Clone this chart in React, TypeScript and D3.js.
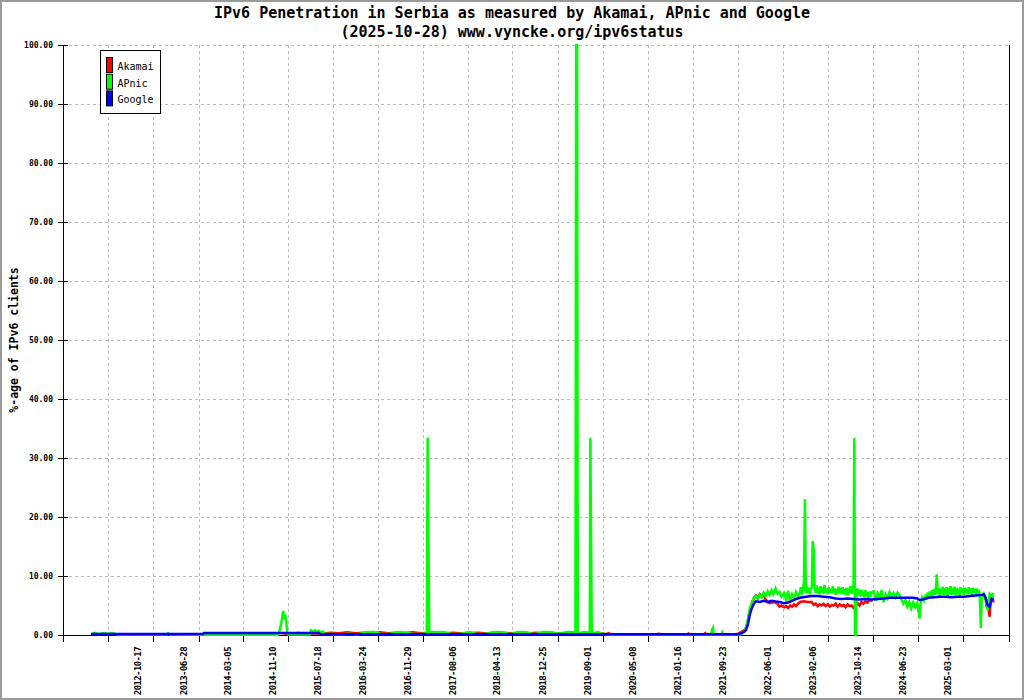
import React, { useEffect, useRef } from 'react';
import * as d3 from 'd3';

type Pt = [string, number | null];

const titleLines = [
  'IPv6 Penetration in Serbia as measured by Akamai, APnic and Google',
  '(2025-10-28) www.vyncke.org/ipv6status',
];
const yAxisTitle = '%-age of IPv6 clients';
const yTicks = [0, 10, 20, 30, 40, 50, 60, 70, 80, 90, 100];
const xDomain = ['2011-06-03', '2025-11-12'];
const xUnlabeledTicks = ['2012-02-09'];
const xTickLabels = [
  '2012-10-17', '2013-06-28', '2014-03-05', '2014-11-10', '2015-07-18', '2016-03-24',
  '2016-11-29', '2017-08-06', '2018-04-13', '2018-12-25', '2019-09-01', '2020-05-08',
  '2021-01-16', '2021-09-23', '2022-06-01', '2023-02-06', '2023-10-14', '2024-06-23',
  '2025-03-01',
];
const seriesNames = ['Akamai', 'APnic', 'Google'];
const seriesColors = ['#ff0000', '#00ff00', '#0000ff'];

const akamai: Pt[] = [
  ['2014-10-08', 0.3], ['2014-11-20', 0.2], ['2015-01-05', 0.35], ['2015-02-20', 0.2], ['2015-04-05', 0.3],
  ['2015-05-20', 0.25], ['2015-07-05', 0.4], ['2015-08-20', 0.3], ['2015-10-05', 0.45], ['2015-11-20', 0.3],
  ['2016-01-05', 0.4], ['2016-02-20', 0.25], ['2016-04-05', 0.45], ['2016-05-20', 0.3], ['2016-07-05', 0.4],
  ['2016-08-20', 0.35], ['2016-10-05', 0.45], ['2016-11-20', 0.3], ['2017-01-05', 0.4], ['2017-02-20', 0.45],
  ['2017-04-05', 0.3], ['2017-05-20', 0.4], ['2017-07-05', 0.25], ['2017-08-20', 0.35], ['2017-10-05', 0.4],
  ['2017-11-20', 0.25], ['2018-01-05', 0.35], ['2018-02-20', 0.4], ['2018-04-05', 0.3], ['2018-05-20', 0.35],
  ['2018-07-05', 0.25], ['2018-08-20', 0.4], ['2018-10-05', 0.3], ['2018-11-20', 0.35], ['2019-01-05', 0.25],
  ['2019-02-20', 0.4], ['2019-04-05', 0.3], ['2019-05-20', 0.35], ['2019-07-05', 0.25], ['2019-08-20', 0.3],
  ['2019-09-20', 0.15], ['2019-10-01', 0.3], ['2019-10-15', 0.1], ['2020-06-20', 0.1], ['2020-07-05', 0.22],
  ['2020-08-05', 0.1], ['2020-12-15', 0.1], ['2020-12-20', 0.25], ['2020-12-28', 0.1], ['2021-03-18', 0.1],
  ['2021-03-24', 0.3], ['2021-03-30', 0.1], ['2021-09-10', 0.15],
  ['2021-09-23', 0.2], ['2021-10-10', 0.5], ['2021-10-26', 0.8], ['2021-11-06', 1.2], ['2021-11-17', 2.5],
  ['2021-11-28', 4.1], ['2021-12-09', 5.4], ['2021-12-20', 6.2], ['2021-12-31', 6.7], ['2022-01-11', 6.3],
  ['2022-01-22', 6.9], ['2022-02-02', 6.5], ['2022-02-13', 6.8], ['2022-02-24', 6.0], ['2022-03-07', 5.6],
  ['2022-03-18', 5.4], ['2022-04-09', 5.6], ['2022-05-01', 5.3], ['2022-05-12', 4.8], ['2022-05-23', 5.0],
  ['2022-06-07', 4.7], ['2022-06-18', 4.9], ['2022-06-29', 4.6], ['2022-07-10', 5.0], ['2022-07-21', 4.8],
  ['2022-08-01', 5.2], ['2022-08-12', 4.9], ['2022-08-23', 5.3], ['2022-09-03', 5.6], ['2022-09-25', 5.7],
  ['2022-10-17', 5.6], ['2022-11-08', 5.6], ['2022-11-19', 5.1], ['2022-11-30', 5.3], ['2022-12-11', 4.9],
  ['2022-12-22', 5.2], ['2023-01-02', 5.0], ['2023-01-13', 5.3], ['2023-01-24', 4.9], ['2023-02-06', 5.2],
  ['2023-02-17', 4.8], ['2023-02-28', 5.1], ['2023-03-11', 5.0], ['2023-03-22', 5.3], ['2023-04-02', 4.8],
  ['2023-04-13', 5.2], ['2023-04-24', 4.9], ['2023-05-05', 5.1], ['2023-05-16', 4.7], ['2023-05-27', 5.2],
  ['2023-06-07', 4.9], ['2023-06-18', 5.0], ['2023-06-29', 4.6], ['2023-07-10', 5.1], ['2023-07-21', 5.4],
  ['2023-08-01', 5.0], ['2023-08-12', 5.6], ['2023-08-23', 5.3], ['2023-09-03', 5.7], ['2023-09-14', 5.5],
  ['2023-09-25', 5.9], ['2023-10-14', 5.8], ['2023-10-20', null],
  ['2025-06-24', 7.0], ['2025-07-05', 6.1], ['2025-07-10', 4.8], ['2025-07-16', 5.6], ['2025-07-27', 3.1],
  ['2025-08-02', 6.2], ['2025-08-07', 6.9], ['2025-08-18', 5.5],
];

const apnic: Pt[] = [
  ['2011-11-06', 0.1], ['2011-11-25', 0.35], ['2011-12-20', 0.15], ['2012-01-15', 0.35], ['2012-02-10', 0.2],
  ['2012-03-05', 0.35], ['2012-04-01', 0.1], ['2013-01-02', 0.1], ['2013-01-09', 0.3], ['2013-01-20', 0.1],
  ['2013-07-28', 0.05], ['2014-09-15', 0.05], ['2014-09-21', 0.5], ['2014-10-02', 2.0], ['2014-10-08', 3.0],
  ['2014-10-13', 4.1], ['2014-10-19', 2.6], ['2014-10-24', 3.5], ['2014-10-30', 2.3], ['2014-11-04', 0.6],
  ['2014-11-10', 0.1], ['2015-03-11', 0.1], ['2015-03-17', 0.8], ['2015-03-28', 0.6], ['2015-04-08', 0.8],
  ['2015-04-19', 0.5], ['2015-04-30', 0.7], ['2015-05-11', 0.4], ['2015-05-22', 0.6], ['2015-06-03', 0.2],
  ['2015-07-15', 0.15], ['2015-09-01', 0.1], ['2015-10-15', 0.2], ['2015-12-01', 0.1], ['2016-01-15', 0.45],
  ['2016-03-01', 0.5], ['2016-04-15', 0.15], ['2016-06-01', 0.2], ['2016-07-15', 0.5], ['2016-09-01', 0.4],
  ['2016-10-15', 0.15], ['2016-12-01', 0.2], ['2016-12-22', 0.3], ['2016-12-27', 33.4], ['2016-12-31', 16.7],
  ['2017-01-05', 0.2], ['2017-02-15', 0.5], ['2017-04-01', 0.45], ['2017-05-15', 0.15], ['2017-07-01', 0.2],
  ['2017-08-15', 0.5], ['2017-10-01', 0.15], ['2017-11-15', 0.2], ['2018-01-01', 0.5], ['2018-02-15', 0.45],
  ['2018-04-01', 0.15], ['2018-05-15', 0.5], ['2018-07-01', 0.45], ['2018-08-15', 0.15], ['2018-10-01', 0.5],
  ['2018-11-15', 0.45], ['2019-01-01', 0.2], ['2019-02-15', 0.5], ['2019-03-31', 0.45], ['2019-04-04', 100],
  ['2019-04-09', 100], ['2019-04-13', 0.2], ['2019-05-20', 0.5], ['2019-06-19', 0.4], ['2019-06-22', 33.4],
  ['2019-06-26', 16.7], ['2019-06-30', 0.2], ['2019-08-01', 0.5], ['2019-09-01', 0.2], ['2019-10-01', 0.1],
  ['2021-04-25', 0.1], ['2021-05-01', 0.9], ['2021-05-06', 1.2], ['2021-05-10', 0.1], ['2021-06-24', 0.1],
  ['2021-06-27', 0.4], ['2021-07-01', 0.1],
  ['2021-09-23', 0.1], ['2021-10-04', 0.1], ['2021-10-15', 0.3], ['2021-10-26', 0.6], ['2021-11-06', 1.2],
  ['2021-11-17', 2.6], ['2021-11-28', 4.6], ['2021-12-09', 5.4], ['2021-12-20', 6.3], ['2021-12-31', 6.6],
  ['2022-01-11', 6.1], ['2022-01-22', 6.9], ['2022-02-02', 6.4], ['2022-02-13', 7.2], ['2022-02-24', 6.6],
  ['2022-03-07', 7.4], ['2022-03-18', 6.8], ['2022-03-29', 7.6], ['2022-04-09', 6.9], ['2022-04-20', 7.9],
  ['2022-05-01', 7.0], ['2022-05-12', 7.3], ['2022-05-23', 6.5], ['2022-06-07', 7.1], ['2022-06-18', 6.0],
  ['2022-06-29', 7.5], ['2022-07-10', 5.7], ['2022-07-21', 6.9], ['2022-08-01', 6.2], ['2022-08-12', 7.3],
  ['2022-08-23', 6.6], ['2022-09-03', 7.2], ['2022-09-08', 8.1], ['2022-09-14', 6.8], ['2022-09-20', 7.9],
  ['2022-09-25', 7.5], ['2022-10-01', 23.0], ['2022-10-06', 7.0], ['2022-10-11', 8.2], ['2022-10-17', 7.1],
  ['2022-10-22', 8.0], ['2022-10-28', 6.9], ['2022-11-03', 7.8], ['2022-11-08', 8.0], ['2022-11-13', 15.9],
  ['2022-11-19', 14.6], ['2022-11-24', 8.2], ['2022-11-30', 7.1], ['2022-12-05', 8.4], ['2022-12-11', 7.0],
  ['2022-12-16', 7.9], ['2022-12-22', 6.9], ['2022-12-27', 8.3], ['2023-01-02', 7.2], ['2023-01-07', 8.0],
  ['2023-01-13', 7.0], ['2023-01-18', 8.5], ['2023-01-24', 7.2], ['2023-01-30', 7.9], ['2023-02-06', 6.9],
  ['2023-02-11', 8.1], ['2023-02-17', 7.1], ['2023-02-22', 7.8], ['2023-02-28', 7.0], ['2023-03-05', 8.3],
  ['2023-03-11', 7.2], ['2023-03-16', 7.9], ['2023-03-22', 6.8], ['2023-03-27', 7.8], ['2023-04-02', 7.0],
  ['2023-04-07', 8.2], ['2023-04-13', 7.1], ['2023-04-18', 7.9], ['2023-04-24', 6.9], ['2023-04-29', 8.1],
  ['2023-05-05', 7.0], ['2023-05-10', 7.8], ['2023-05-16', 6.8], ['2023-05-21', 8.0], ['2023-05-27', 6.7],
  ['2023-06-01', 7.9], ['2023-06-07', 7.1], ['2023-06-12', 8.3], ['2023-06-18', 7.0], ['2023-06-23', 7.8],
  ['2023-06-29', 8.6], ['2023-07-03', 33.4], ['2023-07-07', 0.05], ['2023-07-12', 0.05], ['2023-07-16', 7.0],
  ['2023-07-21', 7.9], ['2023-07-26', 6.8], ['2023-08-01', 7.6], ['2023-08-06', 6.5], ['2023-08-12', 7.7],
  ['2023-08-17', 6.6], ['2023-08-23', 7.4], ['2023-08-28', 6.4], ['2023-09-03', 7.6], ['2023-09-08', 6.6],
  ['2023-09-14', 7.3], ['2023-09-19', 6.2], ['2023-09-25', 7.4], ['2023-09-30', 6.4], ['2023-10-06', 7.2],
  ['2023-10-20', 7.4], ['2023-10-31', 5.8], ['2023-11-11', 7.1], ['2023-11-22', 6.4], ['2023-12-03', 7.6],
  ['2023-12-14', 5.6], ['2023-12-25', 6.9], ['2024-01-05', 6.2], ['2024-01-16', 7.3], ['2024-01-27', 6.6],
  ['2024-02-07', 7.1], ['2024-02-18', 6.4], ['2024-02-29', 7.2], ['2024-03-11', 6.8], ['2024-03-22', 6.0],
  ['2024-04-02', 5.3], ['2024-04-13', 5.9], ['2024-04-24', 4.8], ['2024-05-05', 5.6], ['2024-05-16', 4.5],
  ['2024-05-27', 5.5], ['2024-06-07', 4.7], ['2024-06-18', 5.4], ['2024-07-02', 2.8], ['2024-07-06', 5.2],
  ['2024-07-15', 6.4], ['2024-07-26', 5.8], ['2024-08-06', 6.9], ['2024-08-11', 6.0], ['2024-08-17', 7.2],
  ['2024-08-22', 6.3], ['2024-08-28', 7.4], ['2024-09-02', 6.5], ['2024-09-08', 7.6], ['2024-09-13', 6.6],
  ['2024-09-19', 7.8], ['2024-09-24', 6.8], ['2024-09-30', 7.6], ['2024-10-05', 10.3], ['2024-10-11', 7.0],
  ['2024-10-16', 8.0], ['2024-10-22', 6.7], ['2024-10-27', 7.9], ['2024-11-02', 6.9], ['2024-11-07', 8.2],
  ['2024-11-13', 6.8], ['2024-11-18', 7.9], ['2024-11-24', 7.0], ['2024-11-29', 8.1], ['2024-12-05', 6.6],
  ['2024-12-10', 8.0], ['2024-12-16', 7.0], ['2024-12-21', 8.3], ['2024-12-27', 6.8], ['2025-01-01', 7.9],
  ['2025-01-07', 7.0], ['2025-01-12', 8.2], ['2025-01-18', 6.7], ['2025-01-23', 8.0], ['2025-01-29', 7.1],
  ['2025-02-03', 7.8], ['2025-02-09', 6.6], ['2025-02-14', 8.1], ['2025-02-20', 7.2], ['2025-02-25', 7.9],
  ['2025-03-06', 6.8], ['2025-03-11', 8.0], ['2025-03-17', 7.1], ['2025-03-22', 7.8], ['2025-03-28', 6.9],
  ['2025-04-02', 8.1], ['2025-04-08', 7.0], ['2025-04-13', 7.9], ['2025-04-19', 6.8], ['2025-04-24', 8.0],
  ['2025-04-30', 7.1], ['2025-05-05', 7.8], ['2025-05-11', 6.9], ['2025-05-16', 7.9], ['2025-05-22', 7.0],
  ['2025-05-27', 7.6], ['2025-06-02', 6.8], ['2025-06-08', 1.2], ['2025-06-13', 6.5], ['2025-06-24', 7.0],
  ['2025-07-05', 6.2], ['2025-07-16', 4.2], ['2025-07-27', 6.9], ['2025-08-07', 6.4], ['2025-08-18', 7.1],
];

const google: Pt[] = [
  ['2011-11-06', 0.15], ['2013-07-22', 0.15], ['2013-07-28', 0.35], ['2015-05-01', 0.35], ['2015-05-08', 0.12],
  ['2021-09-23', 0.12], ['2021-10-10', 0.3], ['2021-10-26', 0.5], ['2021-11-06', 0.8], ['2021-11-17', 1.8],
  ['2021-11-28', 3.5], ['2021-12-09', 4.6], ['2021-12-20', 5.3], ['2021-12-31', 5.7], ['2022-01-22', 5.6],
  ['2022-02-13', 5.8], ['2022-03-07', 5.6], ['2022-03-29', 5.8], ['2022-04-20', 5.7], ['2022-05-12', 5.6],
  ['2022-06-07', 5.4], ['2022-06-29', 5.5], ['2022-07-21', 5.8], ['2022-08-12', 6.1], ['2022-09-03', 6.3],
  ['2022-10-06', 6.5], ['2022-11-08', 6.6], ['2022-12-11', 6.6], ['2023-01-13', 6.5], ['2023-02-17', 6.4],
  ['2023-03-22', 6.2], ['2023-04-24', 6.1], ['2023-05-27', 6.2], ['2023-06-29', 6.1], ['2023-08-01', 6.0],
  ['2023-09-03', 6.1], ['2023-10-06', 6.0], ['2023-11-11', 6.1], ['2023-12-14', 6.2], ['2024-01-16', 6.3],
  ['2024-02-18', 6.3], ['2024-03-22', 6.3], ['2024-04-24', 6.3], ['2024-05-27', 6.3], ['2024-06-18', 6.2],
  ['2024-07-04', 5.9], ['2024-07-15', 6.0], ['2024-08-17', 6.3], ['2024-09-19', 6.4], ['2024-10-22', 6.5],
  ['2024-11-24', 6.5], ['2024-12-27', 6.4], ['2025-01-29', 6.5], ['2025-03-06', 6.5], ['2025-04-08', 6.6],
  ['2025-05-11', 6.7], ['2025-06-13', 6.8], ['2025-06-24', 6.9], ['2025-07-05', 6.3], ['2025-07-16', 5.0],
  ['2025-07-27', 4.8], ['2025-08-07', 6.1], ['2025-08-18', 5.9],
];

const seriesData = [akamai, apnic, google];

const W = 1024;
const H = 700;
const M = { left: 63, right: 1009, top: 45, bottom: 635 };
const MONO = '"DejaVu Sans Mono", "Liberation Mono", monospace';

const App: React.FC = () => {
  const svgRef = useRef<SVGSVGElement>(null);

  useEffect(() => {
    document.body.style.margin = '0';
    if (!svgRef.current) return;
    const svg = d3.select(svgRef.current);
    svg.selectAll('*').remove();

    const parse = d3.timeParse('%Y-%m-%d');
    const x = d3.scaleTime()
      .domain(xDomain.map(d => parse(d) as Date))
      .range([M.left, M.right]);
    const y = d3.scaleLinear().domain([0, 100]).range([M.bottom, M.top]);

    // background + frame
    svg.append('rect').attr('width', W).attr('height', H).attr('fill', '#ffffff');
    svg.append('rect')
      .attr('x', 1).attr('y', 1).attr('width', W - 2).attr('height', H - 2)
      .attr('fill', 'none').attr('stroke', '#9a9a9a').attr('stroke-width', 2);

    const gridTickDates = [...xUnlabeledTicks, ...xTickLabels].map(d => parse(d) as Date);
    const grid = svg.append('g').attr('shape-rendering', 'crispEdges')
      .attr('stroke', '#bdbdbd').attr('stroke-dasharray', '3,3');
    grid.selectAll('.hg').data(yTicks.filter(t => t > 0)).enter().append('line')
      .attr('x1', M.left).attr('x2', M.right)
      .attr('y1', d => Math.round(y(d)) + 0.5).attr('y2', d => Math.round(y(d)) + 0.5);
    grid.selectAll('.vg').data(gridTickDates).enter().append('line')
      .attr('x1', d => Math.round(x(d)) + 0.5).attr('x2', d => Math.round(x(d)) + 0.5)
      .attr('y1', M.top).attr('y2', M.bottom);

    // axes
    const ax = svg.append('g').attr('shape-rendering', 'crispEdges').attr('stroke', '#000');
    ax.append('line').attr('x1', M.left + 0.5).attr('x2', M.left + 0.5).attr('y1', M.top).attr('y2', M.bottom + 7);
    ax.append('line').attr('x1', M.right + 0.5).attr('x2', M.right + 0.5).attr('y1', M.top).attr('y2', M.bottom + 7);
    ax.append('line').attr('x1', M.left).attr('x2', M.right).attr('y1', M.bottom + 0.5).attr('y2', M.bottom + 0.5);
    ax.selectAll('.yt').data(yTicks).enter().append('line')
      .attr('x1', M.left - 5).attr('x2', M.left + 5)
      .attr('y1', d => Math.round(y(d)) + 0.5).attr('y2', d => Math.round(y(d)) + 0.5);
    ax.selectAll('.xt').data(gridTickDates).enter().append('line')
      .attr('x1', d => Math.round(x(d)) + 0.5).attr('x2', d => Math.round(x(d)) + 0.5)
      .attr('y1', M.bottom).attr('y2', M.bottom + 7);

    // series
    const line = d3.line<Pt>()
      .defined(d => d[1] !== null)
      .x(d => x(parse(d[0]) as Date))
      .y(d => y(d[1] as number));
    seriesData.forEach((data, i) => {
      svg.append('path')
        .attr('d', line(data) || '')
        .attr('fill', 'none')
        .attr('stroke', seriesColors[i])
        .attr('stroke-width', 2.5)
        .attr('stroke-linejoin', 'miter');
    });

    // y tick labels
    svg.selectAll('.yl').data(yTicks).enter().append('text')
      .attr('x', 53).attr('y', d => y(d) + 3)
      .attr('text-anchor', 'end')
      .attr('font-family', MONO).attr('font-size', 8).attr('font-weight', 'bold')
      .attr('fill', '#000')
      .text(d => d3.format('.2f')(d));

    // x tick labels
    svg.selectAll('.xl').data(xTickLabels).enter().append('text')
      .attr('transform', d => `translate(${x(parse(d) as Date) - 12},647) rotate(-90)`)
      .attr('text-anchor', 'end')
      .attr('font-family', MONO).attr('font-size', 9).attr('font-weight', 'bold')
      .attr('letter-spacing', -0.6)
      .attr('fill', '#000')
      .text(d => d);

    // titles
    titleLines.forEach((t, i) => {
      svg.append('text')
        .attr('x', 512).attr('y', 18 + i * 19)
        .attr('text-anchor', 'middle')
        .attr('font-family', MONO).attr('font-size', 15).attr('font-weight', 'bold')
        .attr('fill', '#000')
        .text(t);
    });
    svg.append('text')
      .attr('transform', 'translate(18,340) rotate(-90)')
      .attr('text-anchor', 'middle')
      .attr('font-family', MONO).attr('font-size', 11.5).attr('font-weight', 'bold')
      .attr('fill', '#000')
      .text(yAxisTitle);

    // legend
    const lg = svg.append('g');
    lg.append('rect')
      .attr('x', 100.5).attr('y', 50.5).attr('width', 60).attr('height', 63)
      .attr('fill', '#fff').attr('stroke', '#000');
    seriesNames.forEach((name, i) => {
      lg.append('rect')
        .attr('x', 106.5).attr('y', 57.5 + i * 16.7).attr('width', 6).attr('height', 15)
        .attr('fill', seriesColors[i]).attr('stroke', '#000');
      lg.append('text')
        .attr('x', 117.5).attr('y', 70 + i * 16.7)
        .attr('font-family', MONO).attr('font-size', 10)
        .attr('fill', '#000')
        .text(name);
    });
  }, []);

  return <svg ref={svgRef} width={W} height={H} style={{ display: 'block' }} />;
};

export default App;
